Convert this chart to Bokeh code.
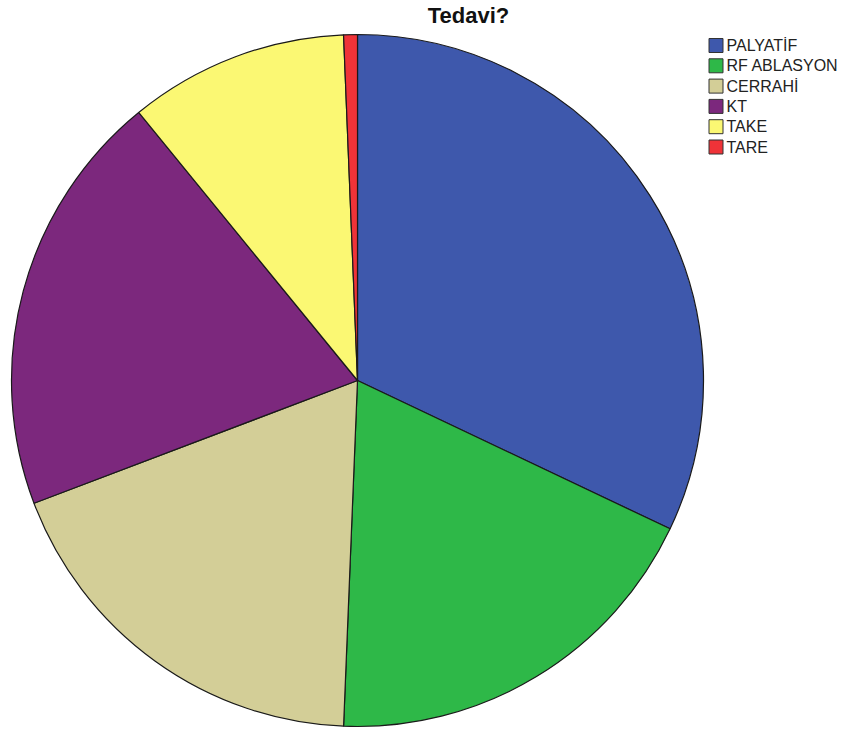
import numpy as np
from bokeh.plotting import figure
from bokeh.models import Range1d, ColumnDataSource
from bokeh.core.properties import value
from bokeh.embed import file_html
from bokeh.resources import INLINE

title = "Tedavi?"
categories = ["PALYATİF", "RF ABLASYON", "CERRAHİ", "KT", "TAKE", "TARE"]
counts = [50, 29, 29, 31, 16, 1]
colors = ["#3E58AC", "#2EB848", "#D3CE97", "#7C287D", "#FBF873", "#EF3338"]

W, H = 837, 729
p = figure(width=W, height=H, output_backend="svg", toolbar_location=None,
           x_range=Range1d(0, W), y_range=Range1d(0, H),
           min_border=0, min_border_left=0, min_border_right=0,
           min_border_top=0, min_border_bottom=0)
p.axis.visible = False
p.grid.visible = False
p.outline_line_color = None
p.background_fill_color = "white"
p.border_fill_color = "white"

def Y(ref_y):
    return H - ref_y

# pie, clockwise from 12 o'clock
vals = np.array(counts, dtype=float)
frac = vals / vals.sum()
cum_end = np.cumsum(frac) * 2 * np.pi
cum_start = cum_end - frac * 2 * np.pi
start = np.pi / 2 - cum_end
end = np.pi / 2 - cum_start
src = ColumnDataSource(dict(start=start, end=end, color=colors, cat=categories))
p.wedge(x=357, y=Y(380), radius=346, radius_units="screen",
        start_angle="start", end_angle="end", direction="anticlock",
        fill_color="color", line_color="#1a1a1a", line_width=1.2, source=src)

# title
p.text(x=[468], y=[Y(15)], text=[title], text_font=value("Liberation Sans"),
       text_font_size="22px", text_font_style="bold", text_color="#111111",
       text_align="center", text_baseline="middle")

# legend
n = len(categories)
ly = [Y(45 + 20.3 * i) for i in range(n)]
p.rect(x=[715.5] * n, y=ly, width=14, height=14, width_units="screen",
       height_units="screen", fill_color=colors, line_color="#333333", line_width=1)
p.text(x=[726] * n, y=ly, text=categories, text_font=value("Liberation Sans"),
       text_font_size="16px", text_color="#222222",
       text_align="left", text_baseline="middle")

open("out.html", "w").write(file_html(p, INLINE))
